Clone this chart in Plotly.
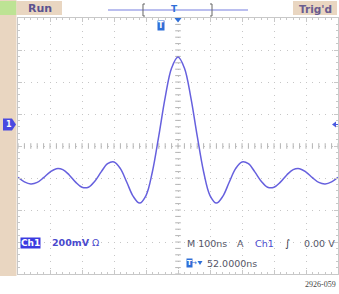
import plotly.graph_objects as go

# ---- data (time in ns, voltage in V; 0 V at the "1" marker) ----
time_ns = list(range(-500, 501, 20))
volts = [-0.327, -0.355, -0.368, -0.359, -0.329, -0.294, -0.273, -0.279, -0.312, -0.357,
         -0.389, -0.389, -0.351, -0.293, -0.242, -0.231, -0.273, -0.358, -0.446, -0.488,
         -0.441, -0.292, -0.068, 0.173, 0.356, 0.425, 0.356, 0.173, -0.068, -0.292,
         -0.441, -0.488, -0.446, -0.358, -0.273, -0.231, -0.242, -0.293, -0.351, -0.389,
         -0.389, -0.357, -0.312, -0.279, -0.273, -0.294, -0.329, -0.359, -0.368, -0.355,
         -0.327]

x_range = [-500, 500]
y_range = [-0.93125, 0.66875]
y_center = -0.13125

W, H = 339, 294
L, T, PW, PH = 18, 18, 320, 256


def px(x):
    return (x - L) / PW


def py(y):
    return (T + PH - y) / PH


def path(pts):
    s = "M " + " L ".join(f"{px(a):.5f},{py(b):.5f}" for a, b in pts)
    return s + " Z"


BEIGE = "#E9D6C1"
WAVE = "#6660DE"
GRID = "#C6C6C6"

fig = go.Figure()

# center cross tick marks (decorations)
hx = list(range(-500, 501, 20))
fig.add_trace(go.Scatter(x=hx, y=[y_center] * len(hx), mode="markers",
                         marker=dict(symbol="line-ns", size=4, line=dict(width=1, color="#B4B4B4")),
                         hoverinfo="skip", showlegend=False))
vy = [y_range[0] + 0.04 * i for i in range(41)]
fig.add_trace(go.Scatter(x=[0] * len(vy), y=vy, mode="markers",
                         marker=dict(symbol="line-ew", size=4, line=dict(width=1, color="#B4B4B4")),
                         hoverinfo="skip", showlegend=False))

fig.add_trace(go.Scatter(x=time_ns, y=volts, mode="lines",
                         line=dict(color=WAVE, width=1.5, shape="spline", smoothing=1),
                         showlegend=False, hoverinfo="skip"))

shapes = []
# left beige strip
shapes.append(dict(type="rect", xref="paper", yref="paper", x0=px(0), x1=px(16.5), y0=py(276), y1=py(0),
                   fillcolor=BEIGE, line=dict(width=0), layer="below"))
# top left green box and Run box
shapes.append(dict(type="rect", xref="paper", yref="paper", x0=px(0), x1=px(16.5), y0=py(15), y1=py(1),
                   fillcolor="#BDE394", line=dict(width=0)))
shapes.append(dict(type="rect", xref="paper", yref="paper", x0=px(16.5), x1=px(62), y0=py(15), y1=py(1),
                   fillcolor=BEIGE, line=dict(width=0)))
# Trig'd box
shapes.append(dict(type="rect", xref="paper", yref="paper", x0=px(293), x1=px(337), y0=py(15), y1=py(1),
                   fillcolor=BEIGE, line=dict(width=0)))
# record view line
shapes.append(dict(type="line", xref="paper", yref="paper", x0=px(108), x1=px(248), y0=py(10), y1=py(10),
                   line=dict(color="#A3A9EA", width=1.5)))
# brackets
shapes.append(dict(type="path", xref="paper", yref="paper",
                   path="M " + " L ".join(f"{px(a):.5f},{py(b):.5f}" for a, b in [(145, 4), (143, 4), (143, 16), (145, 16)]),
                   line=dict(color="#666666", width=1)))
shapes.append(dict(type="path", xref="paper", yref="paper",
                   path="M " + " L ".join(f"{px(a):.5f},{py(b):.5f}" for a, b in [(210, 4), (212, 4), (212, 16), (210, 16)]),
                   line=dict(color="#666666", width=1)))
# trigger position triangle at top
shapes.append(dict(type="path", xref="paper", yref="paper", path=path([(174.5, 18), (181.5, 18), (178, 22.5)]),
                   fillcolor="#2F6FD8", line=dict(width=0)))
# channel 1 marker
shapes.append(dict(type="path", xref="paper", yref="paper",
                   path=path([(3, 118.5), (12, 118.5), (16, 124.5), (12, 130.5), (3, 130.5)]),
                   fillcolor="#4A4AE0", line=dict(width=0)))
# trigger level marker on right
shapes.append(dict(type="path", xref="paper", yref="paper", path=path([(332, 124.5), (336, 121.5), (336, 127.5)]),
                   fillcolor="#4A5AE0", line=dict(width=0)))
shapes.append(dict(type="line", xref="paper", yref="paper", x0=px(334), x1=px(338), y0=py(124.5), y1=py(124.5),
                   line=dict(color="#4A5AE0", width=1)))
# small down-triangle in the trigger-position readout
shapes.append(dict(type="path", xref="paper", yref="paper", path=path([(197.5, 261), (202.5, 261), (200, 265)]),
                   fillcolor="#2F6FD8", line=dict(width=0)))

FONT = "DejaVu Sans"
ann = []


def text(x, y, s, size=10, color="#555566", bg=None, xanchor="center", family=FONT):
    d = dict(xref="paper", yref="paper", x=px(x), y=py(y), text=s, showarrow=False,
             xanchor=xanchor, yanchor="middle", font=dict(family=family, size=size, color=color))
    if bg:
        d.update(bgcolor=bg, borderpad=0)
    ann.append(d)


text(40, 8.5, "<b>Run</b>", 11, "#5B5290")
text(315, 8.5, "<b>Trig'd</b>", 10.5, "#6A5C90")
text(174, 9, "<b>T</b>", 9, "#2F6FD8")
text(161, 25, "<b>T</b>", 8, "white", bg="#2F6FD8")
text(9, 124.5, "<b>1</b>", 8, "white")
text(30.5, 242.5, "<b>Ch1</b>", 9, "white", bg="#3B3BE0")
text(50, 242.5, "<b>200mV</b> Ω", 9.5, "#4A4ACD", xanchor="left")
text(185, 243.5, "M 100ns", 9.5, "#555566", xanchor="left")
text(240, 243.5, "A", 9.5, "#555566")
text(264, 243.5, "Ch1", 9.5, "#4A4ACD")
text(287, 243.5, "∫", 10, "#333344")
text(337, 243.5, "0.00 V", 9.5, "#555566", xanchor="right")
text(189, 263, "<b>T</b>", 7, "white", bg="#2F6FD8")
text(194, 263, "→", 7, "#2F6FD8")
text(205, 263, "52.0000ns", 9.5, "#555566", xanchor="left")
text(338, 284, "2926-059", 8, "#444444", xanchor="right", family="Liberation Sans Narrow")

axis_common = dict(showline=True, linecolor="#C8C8C8", linewidth=1, mirror="allticks",
                   ticks="inside", ticklen=4, tickcolor="#C8C8C8", showticklabels=False,
                   showgrid=True, gridcolor=GRID, griddash="1px,5.4px", gridwidth=1,
                   zeroline=False, fixedrange=True)

fig.update_layout(
    width=W, height=H,
    margin=dict(l=L, r=W - L - PW, t=T, b=H - T - PH, pad=0),
    paper_bgcolor="white", plot_bgcolor="white",
    shapes=shapes, annotations=ann, showlegend=False,
    xaxis=dict(range=x_range, tick0=-500, dtick=100,
               minor=dict(dtick=20, tick0=-500, ticks="inside", ticklen=2, tickcolor="#C8C8C8", showgrid=False),
               **axis_common),
    yaxis=dict(range=y_range, tick0=y_center, dtick=0.2,
               minor=dict(dtick=0.04, tick0=y_center, ticks="inside", ticklen=2, tickcolor="#C8C8C8", showgrid=False),
               **axis_common),
)

fig.write_html("out.html", config={"displayModeBar": False},
               post_script="document.body.style.margin='0';document.body.style.overflow='hidden';")
